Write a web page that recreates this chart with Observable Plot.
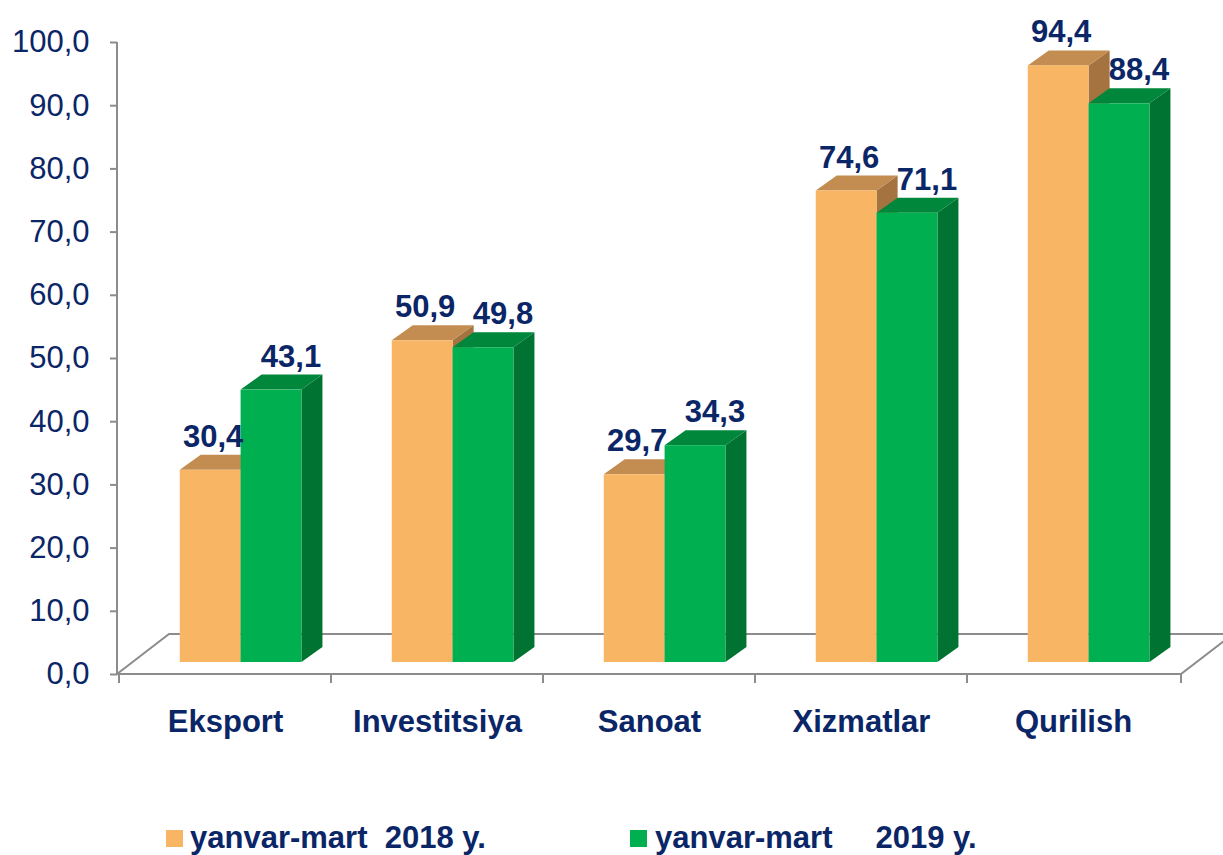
<!DOCTYPE html>
<html><head><meta charset="utf-8">
<script src="https://cdn.jsdelivr.net/npm/d3@7"></script>
<script src="https://cdn.jsdelivr.net/npm/@observablehq/plot@0.6"></script>
<style>
body{margin:0;background:#fff;font-family:Arial,"Liberation Sans",sans-serif;}
#wrap{position:relative;width:1223px;height:855px;overflow:hidden;}
#legend{position:relative;height:55px;}
.sw{position:absolute;width:17px;height:17px;}
.lt{position:absolute;white-space:pre;font-weight:bold;font-size:31px;line-height:31px;color:#0b2667;}
</style></head><body><div id="wrap"><div id="chart"></div><div id="legend"></div></div>
<script>
const categories = ["Eksport", "Investitsiya", "Sanoat", "Xizmatlar", "Qurilish"];
const series = ["yanvar-mart  2018 y.", "yanvar-mart     2019 y."];
const values2018 = [30.4, 50.9, 29.7, 74.6, 94.4];
const values2019 = [43.1, 49.8, 34.3, 71.1, 88.4];
const tickValues = [0, 10, 20, 30, 40, 50, 60, 70, 80, 90, 100];

const frontColors = ["#F8B563", "#00B050"];
const topColors = ["#C38C50", "#00873B"];
const sideColors = ["#A5733F", "#007232"];
const labelShift = [3, 20];
const navy = "#0b2667";
const gray = "#8c8c8c";

const data = categories.flatMap((c, i) => [
  {category: c, s: 0, value: values2018[i]},
  {category: c, s: 1, value: values2019[i]}
]);

const W = 1223, H = 800;
const shift = [15.6, -12];   // bars sit slightly back on the floor
const bdep = [21, -15];      // bar depth
const fdep = [52, -40];      // floor depth
const fmt = v => v.toFixed(1).replace(".", ",");

const chart = Plot.plot({
  width: W, height: H,
  marginLeft: 117, marginRight: 42, marginTop: 42, marginBottom: H - 674,
  style: {fontFamily: "Arial, 'Liberation Sans', sans-serif", background: "#fff", overflow: "visible"},
  x: {domain: categories, padding: 0, label: null},
  y: {domain: [0, 100], label: null},
  marks: [
    Plot.ruleY([0], {render: (I, scales, values, dims) => {
      const g = d3.create("svg:g").attr("fill", "none").attr("stroke", gray).attr("stroke-width", 2);
      const x0 = dims.marginLeft, x1 = dims.width - dims.marginRight;
      const y0 = scales.y(0), yt = scales.y(100);
      g.append("path").attr("d", `M${x0},${y0}L${x0 + fdep[0]},${y0 + fdep[1]}L${x1 + fdep[0]},${y0 + fdep[1]}L${x1},${y0}Z`);
      g.append("path").attr("d", `M${x0},${yt}L${x0},${y0}`);
      const bx = categories.map(c => scales.x(c)).concat([x1]);
      bx.forEach(x => g.append("path").attr("d", `M${x},${y0}L${x},${y0 + 9}`));
      return g.node();
    }}),
    Plot.axisY({ticks: tickValues, tickSize: 7, tickPadding: 21, tickFormat: fmt, fontSize: 31, stroke: gray, strokeWidth: 2, fill: navy}),
    Plot.axisX({tickSize: 0, tickPadding: 35, fontSize: 31, fontWeight: "bold", fill: navy}),
    Plot.barY(data, {x: "category", y: "value", render: (I, scales, values, dims) => {
      const g = d3.create("svg:g");
      const step = scales.x(categories[1]) - scales.x(categories[0]);
      const bw = step * 0.287;
      const yb = scales.y(0) + shift[1];
      const geo = [];
      for (const i of I) {
        const d = data[i];
        const cx = scales.x(d.category) + step / 2 + shift[0];
        const x0 = cx + (d.s === 0 ? -bw : 0), x1 = x0 + bw;
        const yt = scales.y(d.value) + shift[1];
        const [dx, dy] = bdep;
        g.append("path").attr("fill", sideColors[d.s])
          .attr("d", `M${x1},${yt}L${x1 + dx},${yt + dy}L${x1 + dx},${yb + dy}L${x1},${yb}Z`);
        g.append("path").attr("fill", topColors[d.s])
          .attr("d", `M${x0},${yt}L${x0 + dx},${yt + dy}L${x1 + dx},${yt + dy}L${x1},${yt}Z`);
        g.append("rect").attr("fill", frontColors[d.s])
          .attr("x", x0).attr("y", yt).attr("width", bw).attr("height", yb - yt);
        geo.push({x: (x0 + x1) / 2 + labelShift[d.s], y: yt + dy - 8, t: fmt(d.value)});
      }
      for (const p of geo) {
        g.append("text").attr("x", p.x).attr("y", p.y).attr("text-anchor", "middle")
          .attr("fill", navy).attr("font-size", 31).attr("font-weight", "bold").text(p.t);
      }
      return g.node();
    }})
  ]
});
document.getElementById("chart").appendChild(chart);

const legend = document.getElementById("legend");
const legendPos = [[166, 190], [630, 655]];
series.forEach((s, i) => {
  const sw = document.createElement("div");
  sw.className = "sw"; sw.style.left = legendPos[i][0] + "px"; sw.style.top = "30px";
  sw.style.background = frontColors[i];
  legend.appendChild(sw);
  const t = document.createElement("div");
  t.className = "lt"; t.style.left = legendPos[i][1] + "px"; t.style.top = "22px";
  t.textContent = s;
  legend.appendChild(t);
});
</script></body></html>
